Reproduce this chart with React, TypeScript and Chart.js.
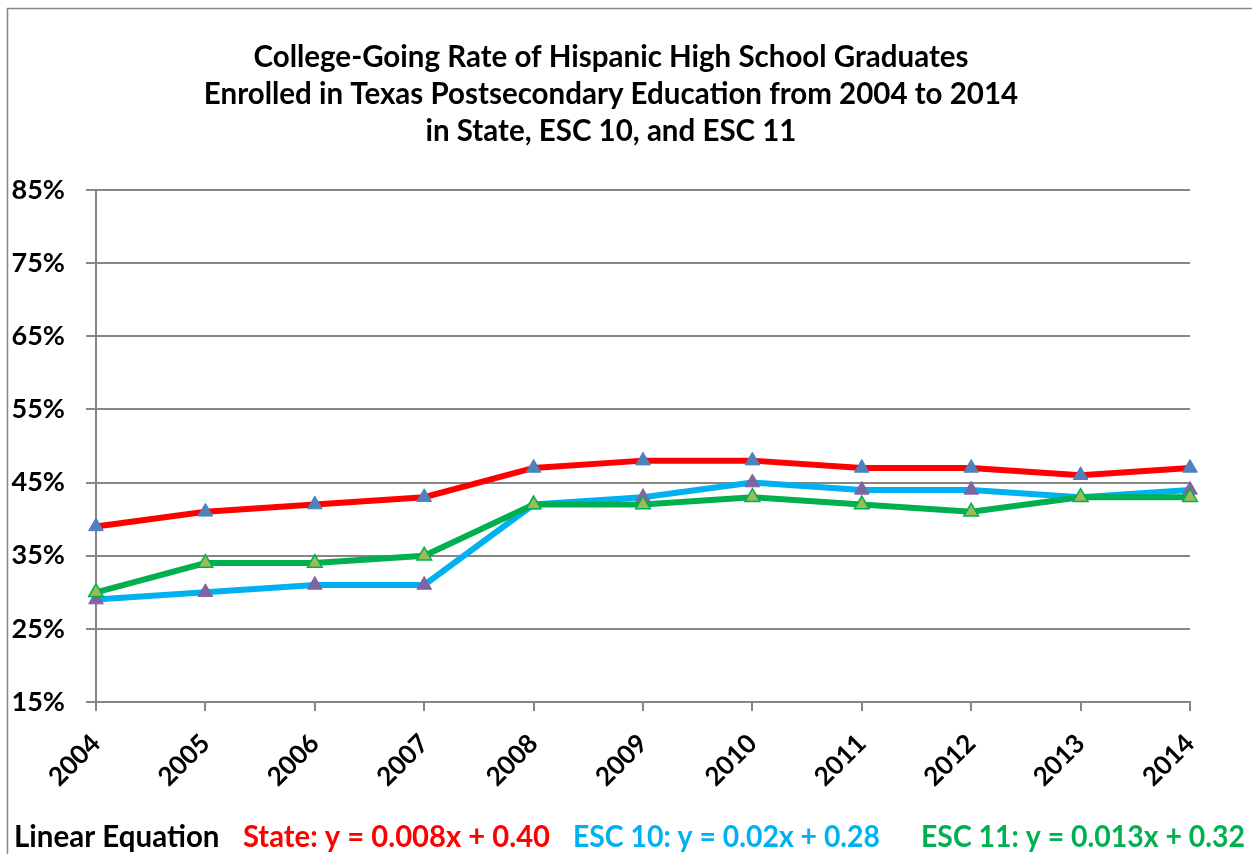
import React, { useEffect, useRef } from "react";
import { Chart, registerables } from "chart.js";

Chart.register(...registerables);

const years = ["2004", "2005", "2006", "2007", "2008", "2009", "2010", "2011", "2012", "2013", "2014"];
const stateRate = [39, 41, 42, 43, 47, 48, 48, 47, 47, 46, 47];
const esc10Rate = [29, 30, 31, 31, 42, 43, 45, 44, 44, 43, 44];
const esc11Rate = [30, 34, 34, 35, 42, 42, 43, 42, 41, 43, 43];
const yMin = 15;
const yMax = 85;
const yStep = 10;

const titleLines = [
  "College-Going Rate of Hispanic High School Graduates",
  "Enrolled in Texas Postsecondary Education from 2004 to 2014",
  "in State, ESC 10, and ESC 11",
];
const equationTexts = [
  "Linear Equation",
  "State: y = 0.008x + 0.40",
  "ESC 10: y = 0.02x + 0.28",
  "ESC 11: y = 0.013x + 0.32",
];
const equationColors = ["#000000", "#FF0000", "#00B0F0", "#00B050"];

const FONT = "Lato, 'Noto Sans', sans-serif";
const W = 1252;
const H = 854;

const decorPlugin = {
  id: "decor",
  afterDraw(chart: any) {
    const ctx = chart.ctx as CanvasRenderingContext2D;
    ctx.save();
    // outer frame
    ctx.strokeStyle = "#868686";
    ctx.lineWidth = 1.5;
    ctx.beginPath();
    ctx.moveTo(7.5, H + 2);
    ctx.lineTo(7.5, 8.5);
    ctx.lineTo(W + 2, 8.5);
    ctx.stroke();
    // title
    ctx.fillStyle = "#000";
    ctx.font = `bold 29.5px ${FONT}`;
    ctx.textAlign = "center";
    ctx.textBaseline = "alphabetic";
    const titleBase = [67, 104, 141];
    titleLines.forEach((t, i) => ctx.fillText(t, 611, titleBase[i]));
    // equations
    ctx.textAlign = "left";
    ctx.font = `bold 29.5px ${FONT}`;
    const eqX = [14, 243, 573, 921];
    const eqW = [210, 307, 307, 324];
    equationTexts.forEach((t, i) => {
      ctx.fillStyle = equationColors[i];
      ctx.fillText(t, eqX[i], 847, eqW[i]);
    });
    ctx.restore();
  },
};

export default function App() {
  const ref = useRef<HTMLCanvasElement>(null);
  useEffect(() => {
    if (!ref.current) return;
    const chart = new Chart(ref.current, {
      type: "line",
      data: {
        labels: years,
        datasets: [
          {
            label: "State",
            data: stateRate,
            borderColor: "#FF0000",
            borderWidth: 6,
            pointStyle: "triangle",
            pointRadius: 8.5,
            pointBackgroundColor: "#4F81BD",
            pointBorderColor: "#4F81BD",
            pointBorderWidth: 1,
            tension: 0,
            order: 1,
          },
          {
            label: "ESC 10",
            data: esc10Rate,
            borderColor: "#00B0F0",
            borderWidth: 6,
            pointStyle: "triangle",
            pointRadius: 8.5,
            pointBackgroundColor: "#8064A2",
            pointBorderColor: "#8064A2",
            pointBorderWidth: 1,
            tension: 0,
            order: 3,
          },
          {
            label: "ESC 11",
            data: esc11Rate,
            borderColor: "#00B050",
            borderWidth: 6,
            pointStyle: "triangle",
            pointRadius: 8.5,
            pointBackgroundColor: "#9BBB59",
            pointBorderColor: "#00B050",
            pointBorderWidth: 1.5,
            tension: 0,
            order: 2,
          },
        ],
      },
      options: {
        animation: false,
        responsive: false,
        maintainAspectRatio: false,
        layout: { padding: { left: 0, top: 190, right: 62, bottom: 0 } },
        plugins: {
          legend: { display: false },
          title: { display: false },
          tooltip: { enabled: false },
        },
        scales: {
          x: {
            type: "category",
            offset: false,
            grid: {
              drawOnChartArea: false,
              drawTicks: true,
              tickLength: 9,
              color: "#868686",
              lineWidth: 2,
            },
            border: { color: "#868686", width: 2 },
            ticks: {
              color: "#000",
              font: { family: FONT, size: 26, weight: "bold" },
              maxRotation: 45,
              minRotation: 45,
              padding: 17,
              autoSkip: false,
            },
            afterFit: (s: any) => {
              s.height = H - 702;
              s.paddingLeft = 0;
              s.paddingRight = 0;
            },
          },
          y: {
            min: yMin,
            max: yMax,
            grid: {
              color: "#868686",
              lineWidth: 2,
              drawTicks: true,
              tickLength: 10,
            },
            border: { color: "#868686", width: 2 },
            ticks: {
              stepSize: yStep,
              color: "#000",
              font: { family: FONT, size: 27, weight: "bold" },
              padding: 21,
              callback: (v: any) => `${v}%`,
            },
            afterFit: (s: any) => {
              s.width = 96;
              s.paddingTop = 0;
              s.paddingBottom = 0;
            },
          },
        },
      },
      plugins: [decorPlugin],
    });
    return () => chart.destroy();
  }, []);
  return (
    <div style={{ position: "absolute", left: 0, top: 0, width: W, height: H, background: "#fff" }}>
      <canvas ref={ref} width={W} height={H} style={{ width: W, height: H, display: "block" }} />
    </div>
  );
}
